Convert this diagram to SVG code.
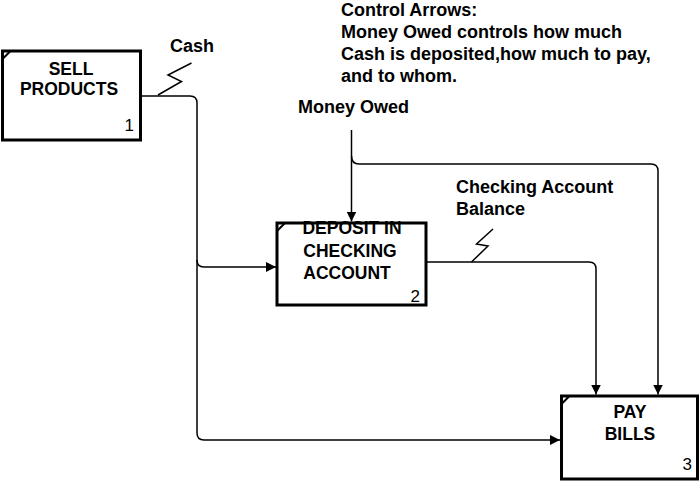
<svg xmlns="http://www.w3.org/2000/svg" width="700" height="482" viewBox="0 0 700 482">
<defs>
<marker id="arr" viewBox="0 0 10 10" refX="10" refY="5" markerWidth="10" markerHeight="10" markerUnits="userSpaceOnUse" orient="auto">
<path d="M0,0 L10,5 L0,10 Z" fill="#000"/>
</marker>
<style>
.box{fill:#fff;stroke:#000;stroke-width:3}
.corner{stroke:#000;stroke-width:2;fill:none}
.lbl{font-family:"Liberation Sans",Arial,sans-serif;font-weight:bold;font-size:17.5px;fill:#000;text-anchor:middle}
.num{font-family:"Liberation Sans",Arial,sans-serif;font-size:17px;fill:#000;text-anchor:end}
.txt{font-family:"Liberation Sans",Arial,sans-serif;font-weight:bold;font-size:18px;fill:#000}
.con{fill:none;stroke:#000;stroke-width:1.5}
</style>
</defs>
<rect width="700" height="482" fill="#fff"/>
<g id="connectors">
<path class="con" d="M141,96 H190 Q197,96 197,103 V260 Q197,267 204,267 H276" marker-end="url(#arr)"/>
<path class="con" d="M197,260 V433 Q197,440 204,440 H560" marker-end="url(#arr)"/>
<path class="con" d="M351.5,130 V221.5" marker-end="url(#arr)"/>
<path class="con" d="M351.5,156 Q351.5,164 359,164 H651 Q658,164 658,171 V394.5" marker-end="url(#arr)"/>
<path class="con" d="M426,262 H589 Q596,262 596,269 V394.5" marker-end="url(#arr)"/>
<polyline class="con" points="158,95 181.5,81.5 168,75 191.5,63"/>
<polyline class="con" points="471.5,262 488,246 476.5,244 493,229"/>
</g>
<g id="node1">
<rect class="box" x="2.5" y="51" width="138" height="89"/>
<line class="corner" x1="2.5" y1="59" x2="10.5" y2="51"/>
<text class="lbl" x="71" y="75">SELL</text>
<text class="lbl" x="69" y="95">PRODUCTS</text>
<text class="num" x="134" y="131">1</text>
</g>
<g id="node2">
<rect class="box" x="277" y="223" width="149" height="82"/>
<line class="corner" x1="277" y1="231" x2="285" y2="223"/>
<text class="lbl" x="352" y="234">DEPOSIT IN</text>
<text class="lbl" x="350" y="257">CHECKING</text>
<text class="lbl" x="347" y="279">ACCOUNT</text>
<text class="num" x="420" y="302">2</text>
</g>
<g id="node3">
<rect class="box" x="561.5" y="396" width="136" height="83"/>
<line class="corner" x1="561.5" y1="404" x2="569.5" y2="396"/>
<text class="lbl" x="630" y="418">PAY</text>
<text class="lbl" x="630" y="440">BILLS</text>
<text class="num" x="692" y="470">3</text>
</g>
<g id="labels">
<text class="txt" x="170" y="52">Cash</text>
<text class="txt" x="298" y="113">Money Owed</text>
<text class="txt" x="456" y="193">Checking Account</text>
<text class="txt" x="456" y="215">Balance</text>
<text class="txt" x="341" y="15.5">Control Arrows:</text>
<text class="txt" x="341" y="37.5">Money Owed controls how much</text>
<text class="txt" x="341" y="59.5">Cash is deposited,how much to pay,</text>
<text class="txt" x="341" y="82">and to whom.</text>
</g>
</svg>
